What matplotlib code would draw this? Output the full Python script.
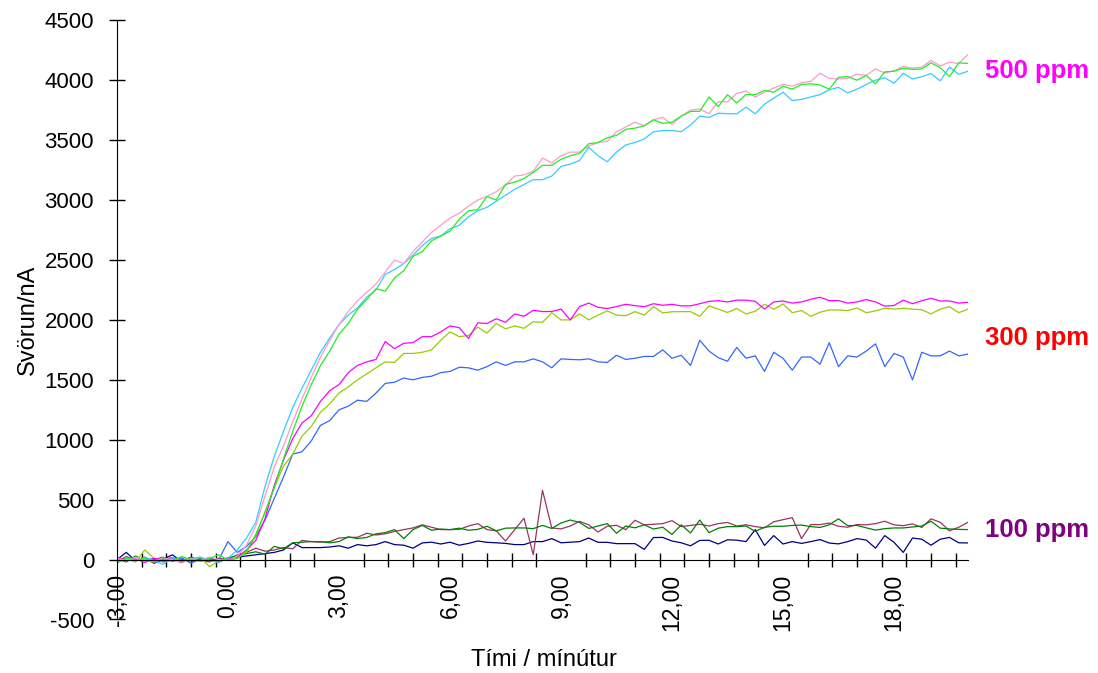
import numpy as np
import matplotlib
matplotlib.use("Agg")
import matplotlib.pyplot as plt
from matplotlib.ticker import FixedLocator, FuncFormatter

plt.rcParams['font.family'] = ['Liberation Sans', 'DejaVu Sans']
plt.rcParams['axes.unicode_minus'] = False

# time axis, minutes (one reading every 15 s)
time_min = np.linspace(-3, 20, 93)

# 500 ppm runs
cyan_500 = [-20, 10, -15, 20, -10, -40, 15, -10, 5, 20, -5, -25, 10,
            80, 180, 310, 610, 860, 1070, 1270, 1430, 1580, 1730, 1850, 1960,
            2040, 2100, 2190, 2250, 2380, 2420, 2470, 2540, 2620, 2680, 2700, 2760,
            2790, 2860, 2910, 2940, 2990, 3040, 3090, 3130, 3170, 3170, 3200, 3280,
            3300, 3330, 3440, 3370, 3320, 3400, 3460, 3480, 3510, 3570, 3580, 3580,
            3570, 3625, 3700, 3690, 3725, 3720, 3720, 3775, 3720, 3800, 3850, 3900,
            3830, 3840, 3860, 3880, 3920, 3940, 3895, 3925, 3965, 4000, 4020, 3975,
            4058, 4010, 4030, 4055, 3995, 4110, 4050, 4075]
pink_500 = [10, -10, 20, 0, -20, 15, -5, -30, 10, -15, 20, 0, -10,
            30, 120, 280, 530, 770, 950, 1150, 1340, 1520, 1690, 1830, 1960,
            2070, 2160, 2230, 2300, 2400, 2500, 2470, 2570, 2650, 2730, 2790, 2850,
            2890, 2950, 3000, 3030, 3070, 3125, 3200, 3210, 3240, 3350, 3310, 3370,
            3400, 3400, 3450, 3480, 3490, 3570, 3610, 3650, 3620, 3670, 3690, 3630,
            3700, 3750, 3760, 3720, 3820, 3820, 3890, 3910, 3860, 3900, 3935, 3965,
            3950, 3980, 3990, 4058, 4015, 4010, 4017, 4050, 4040, 4095, 4060, 4078,
            4115, 4100, 4110, 4165, 4120, 4150, 4140, 4215]
green_500 = [-30, 15, -5, 10, -20, 5, -10, 25, 0, -15, 10, 40, -5,
             10, 70, 210, 390, 600, 840, 1070, 1280, 1460, 1620, 1740, 1880,
             1970, 2090, 2170, 2260, 2240, 2350, 2410, 2530, 2570, 2660, 2700, 2740,
             2840, 2910, 2920, 3030, 3000, 3130, 3150, 3180, 3230, 3290, 3290, 3340,
             3370, 3390, 3470, 3480, 3520, 3540, 3590, 3600, 3620, 3670, 3640, 3650,
             3700, 3740, 3740, 3860, 3780, 3880, 3810, 3880, 3880, 3915, 3900, 3950,
             3925, 3965, 3970, 3960, 3925, 4025, 4030, 4000, 4040, 3970, 4070, 4075,
             4100, 4090, 4095, 4145, 4105, 4030, 4145, 4140]

# 300 ppm runs
magenta_300 = [20, -10, 5, -25, 10, 0, 15, -20, 5, -10, 0, -15, 10,
               20, 80, 160, 340, 620, 830, 1010, 1140, 1200, 1320, 1410, 1460,
               1560, 1620, 1650, 1670, 1820, 1760, 1805, 1810, 1860, 1860, 1900, 1950,
               1935, 1845, 1975, 1970, 2010, 1980, 2050, 2030, 2080, 2070, 2070, 2090,
               2000, 2111, 2140, 2105, 2095, 2111, 2130, 2119, 2110, 2135, 2122, 2130,
               2117, 2117, 2135, 2155, 2160, 2150, 2165, 2165, 2155, 2090, 2150, 2158,
               2140, 2150, 2172, 2189, 2161, 2161, 2140, 2150, 2170, 2150, 2115, 2120,
               2165, 2135, 2160, 2180, 2158, 2158, 2140, 2147]
lime_300 = [-10, 5, -20, 80, 10, -5, 15, -15, 0, 20, -60, -10, 5,
            10, 60, 200, 400, 600, 780, 880, 1030, 1110, 1230, 1300, 1390,
            1440, 1500, 1550, 1600, 1650, 1645, 1720, 1720, 1730, 1750, 1830, 1900,
            1860, 1870, 1940, 1890, 1970, 1925, 1950, 1930, 1985, 1980, 2060, 2000,
            2000, 2050, 2000, 2040, 2075, 2040, 2035, 2069, 2040, 2110, 2058, 2068,
            2069, 2069, 2030, 2117, 2090, 2062, 2095, 2050, 2072, 2130, 2089, 2133,
            2060, 2078, 2030, 2064, 2083, 2083, 2078, 2100, 2060, 2075, 2097, 2090,
            2097, 2090, 2085, 2050, 2090, 2110, 2060, 2090]
blue_300 = [5, -15, 20, -5, 10, -20, -5, 15, -30, 5, 10, 0, 150,
            60, 110, 190, 330, 510, 690, 880, 900, 990, 1120, 1160, 1250,
            1280, 1330, 1320, 1390, 1470, 1480, 1515, 1500, 1520, 1530, 1560, 1570,
            1605, 1600, 1580, 1610, 1650, 1620, 1650, 1650, 1675, 1650, 1600, 1675,
            1670, 1667, 1675, 1650, 1645, 1705, 1670, 1680, 1695, 1695, 1750, 1680,
            1705, 1620, 1830, 1740, 1685, 1655, 1770, 1680, 1700, 1570, 1730, 1680,
            1580, 1690, 1690, 1630, 1810, 1610, 1700, 1690, 1740, 1800, 1610, 1720,
            1690, 1500, 1730, 1700, 1700, 1740, 1700, 1715]

# 100 ppm runs
green_100 = [10, -20, 30, -10, 0, 20, -15, 5, -25, 10, 0, -10, 15,
             30, 50, 65, 45, 110, 90, 140, 145, 150, 150, 140, 150,
             190, 175, 185, 215, 225, 250, 175, 250, 285, 245, 255, 250,
             262, 245, 252, 278, 240, 262, 264, 264, 258, 285, 260, 305,
             330, 310, 260, 280, 300, 220, 280, 265, 290, 255, 270, 210,
             290, 222, 330, 225, 262, 275, 275, 280, 235, 270, 278, 278,
             285, 288, 275, 268, 290, 340, 283, 285, 265, 246, 258, 264,
             264, 272, 280, 320, 262, 256, 252, 250]
maroon_100 = [-15, 25, -5, 10, -30, 0, 15, -10, 20, -5, -20, 10, 0,
              40, 60, 95, 70, 80, 100, 90, 160, 150, 145, 150, 180,
              185, 186, 220, 205, 215, 235, 250, 264, 290, 270, 250, 250,
              252, 280, 300, 250, 240, 155, 250, 345, 40, 578, 264, 256,
              280, 319, 290, 230, 278, 286, 250, 328, 290, 295, 300, 325,
              275, 285, 295, 280, 300, 310, 280, 290, 275, 265, 315, 333,
              350, 175, 292, 292, 305, 278, 270, 292, 290, 300, 320, 290,
              283, 298, 268, 340, 311, 240, 270, 311]
navy_100 = [0, 60, -10, 20, -30, 5, 40, -20, 10, -5, 15, -10, 5,
            20, 30, 40, 50, 60, 80, 140, 100, 100, 100, 105, 115,
            95, 125, 115, 125, 150, 125, 120, 95, 139, 145, 130, 145,
            120, 135, 155, 144, 140, 135, 125, 125, 150, 150, 175, 140,
            145, 150, 180, 144, 144, 133, 133, 133, 85, 184, 185, 155,
            140, 115, 160, 161, 130, 165, 162, 150, 250, 118, 200, 130,
            150, 135, 150, 167, 138, 131, 150, 175, 163, 95, 200, 144,
            60, 180, 170, 120, 170, 185, 140, 139]

series = [
    (navy_100, '#000080'),
    (maroon_100, '#993366'),
    (green_100, '#008000'),
    (blue_300, '#3366FF'),
    (lime_300, '#99CC00'),
    (magenta_300, '#FF00FF'),
    (cyan_500, '#33CCFF'),
    (pink_500, '#FF99CC'),
    (green_500, '#22EE22'),
]

labels = ['500 ppm', '300 ppm', '100 ppm']
label_y = [4080, 1850, 250]
label_colors = ['#FF00FF', '#FF0000', '#800080']

fig = plt.figure(figsize=(10.98, 6.73), dpi=100)
ax = fig.add_axes([117/1098, 1 - 619.5/673, 851/1098, 599.2/673])

for vals, col in series:
    ax.plot(time_min, vals, color=col, lw=0.9)

ax.set_xlim(-3, 20)
ax.set_ylim(-500, 4500)

ax.spines['top'].set_visible(False)
ax.spines['right'].set_visible(False)
ax.spines['bottom'].set_position(('data', 0))

ax.set_yticks(np.arange(-500, 4501, 500))
ax.tick_params(axis='y', direction='inout', length=11, width=1, labelsize=16, pad=11)

ax.xaxis.set_major_locator(FixedLocator(np.arange(-3, 19, 3)))
ax.xaxis.set_minor_locator(FixedLocator(-3 + np.arange(35) * 2 / 3))
ax.xaxis.set_major_formatter(FuncFormatter(lambda v, p: ('%.2f' % v).replace('.', ',')))
ax.tick_params(axis='x', which='major', length=0, labelsize=16.5, pad=10, labelrotation=90)
ax.tick_params(axis='x', which='minor', direction='inout', length=9.5, width=1)

for txt, yv, col in zip(labels, label_y, label_colors):
    ax.text(20.45, yv, txt, color=col, fontsize=18.5, fontweight='bold',
            ha='left', va='center', clip_on=False)

fig.text(28/1098, 1 - 320/673, 'Svörun/nA', rotation=90, fontsize=17,
         ha='center', va='center')
fig.text(544/1098, 1 - 660/673, 'Tími / mínútur', fontsize=17,
         ha='center', va='center')

fig.savefig('out.png', dpi=100)
